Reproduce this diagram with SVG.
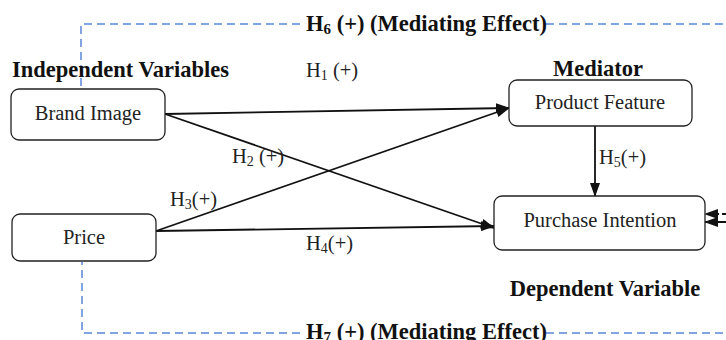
<svg xmlns="http://www.w3.org/2000/svg" width="726" height="340" viewBox="0 0 726 340">
<style>
.box{fill:#fff;stroke:#222;stroke-width:1.3}
.lbl{font-family:"Liberation Serif",serif;font-size:20.5px;fill:#222}
.bold{font-family:"Liberation Serif",serif;font-size:22.5px;font-weight:bold;fill:#111}
.h{font-family:"Liberation Serif",serif;font-size:20.5px;fill:#222}
.edge{stroke:#111;stroke-width:1.8;fill:none}
.dash{stroke:#5a86d8;stroke-width:1.5;fill:none;stroke-dasharray:8 5}
</style>
<defs>
<marker id="ah" markerWidth="14" markerHeight="10" refX="13" refY="5" orient="auto" markerUnits="userSpaceOnUse">
<path d="M0,0 L14,5 L0,10 Z" fill="#111"/>
</marker>
</defs>
<g id="connectors">
<path class="dash" d="M300,24 H81 V88"/>
<path class="dash" d="M546,24 H726"/>
<path class="dash" d="M300,333 H82 V262"/>
<path class="dash" d="M546,333 H726"/>
<line class="edge" x1="165" y1="114" x2="509" y2="108" marker-end="url(#ah)"/>
<line class="edge" x1="165" y1="114" x2="494" y2="228" marker-end="url(#ah)"/>
<line class="edge" x1="156" y1="231" x2="509" y2="108" marker-end="url(#ah)"/>
<line class="edge" x1="156" y1="231" x2="494" y2="226" marker-end="url(#ah)"/>
<line class="edge" x1="595" y1="126" x2="595" y2="196" stroke-width="1.3" marker-end="url(#ah)"/>
<line class="edge" x1="740" y1="214" x2="705" y2="214" stroke-width="1.3" stroke-dasharray="4 3" marker-end="url(#ah)"/>
<line class="edge" x1="740" y1="222" x2="705" y2="222" stroke-width="1.3" marker-end="url(#ah)"/>
</g>
<g id="brand-image">
<rect class="box" x="11" y="89" width="154" height="51" rx="8"/>
<text class="lbl" x="88" y="120" text-anchor="middle">Brand Image</text>
</g>
<g id="price">
<rect class="box" x="12" y="214" width="144" height="47" rx="8"/>
<text class="lbl" x="84" y="244" text-anchor="middle">Price</text>
</g>
<g id="product-feature">
<rect class="box" x="509" y="80" width="183" height="46" rx="8"/>
<text class="lbl" x="600" y="109" text-anchor="middle">Product Feature</text>
</g>
<g id="purchase-intention">
<rect class="box" x="494" y="196" width="211" height="54" rx="8"/>
<text class="lbl" x="600" y="227" text-anchor="middle">Purchase Intention</text>
</g>
<g id="labels">
<text class="bold" x="12" y="77">Independent Variables</text>
<text class="bold" x="598" y="76" text-anchor="middle">Mediator</text>
<text class="bold" x="605" y="296" text-anchor="middle">Dependent Variable</text>
<text class="bold" x="306" y="31">H<tspan font-size="15" dy="3">6</tspan><tspan dy="-3"> (+) (Mediating Effect)</tspan></text>
<text class="bold" x="306" y="339">H<tspan font-size="15" dy="3">7</tspan><tspan dy="-3"> (+) (Mediating Effect)</tspan></text>
<text class="h" x="306" y="77">H<tspan font-size="14" dy="3">1</tspan><tspan dy="-3"> (+)</tspan></text>
<text class="h" x="232" y="163">H<tspan font-size="14" dy="3">2</tspan><tspan dy="-3"> (+)</tspan></text>
<text class="h" x="170" y="206">H<tspan font-size="14" dy="3">3</tspan><tspan dy="-3">(+)</tspan></text>
<text class="h" x="306" y="250">H<tspan font-size="14" dy="3">4</tspan><tspan dy="-3">(+)</tspan></text>
<text class="h" x="599" y="164">H<tspan font-size="14" dy="3">5</tspan><tspan dy="-3">(+)</tspan></text>
</g>
</svg>
